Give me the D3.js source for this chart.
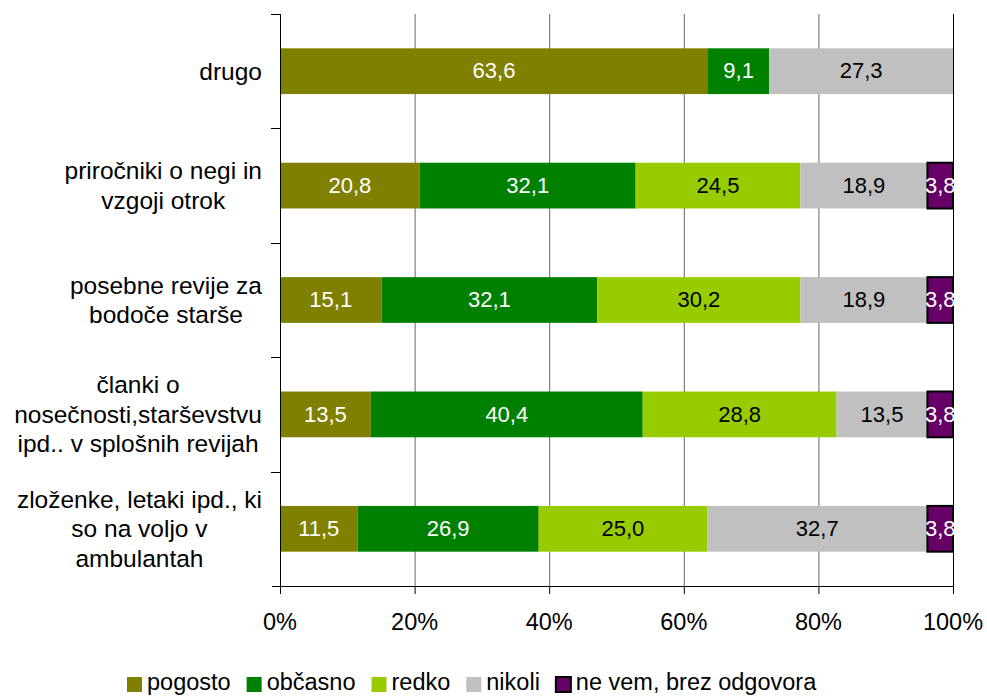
<!DOCTYPE html>
<html><head><meta charset="utf-8">
<script src="https://cdn.jsdelivr.net/npm/d3@7"></script>
<style>body{margin:0;background:#fff}svg{display:block}text{font-family:"Liberation Sans",Arial,sans-serif}</style>
</head><body><svg id="c" width="987" height="696"></svg>
<script>
const categories = [
  ["drugo"],
  ["priročniki o negi in","vzgoji otrok"],
  ["posebne revije za","bodoče starše"],
  ["članki o","nosečnosti,starševstvu","ipd.. v splošnih revijah"],
  ["zloženke, letaki ipd., ki","so na voljo v","ambulantah"]
];
const seriesNames = ["pogosto","občasno","redko","nikoli","ne vem, brez odgovora"];
const pogosto = [63.6, 20.8, 15.1, 13.5, 11.5];
const obcasno = [9.1, 32.1, 32.1, 40.4, 26.9];
const redko   = [0, 24.5, 30.2, 28.8, 25.0];
const nikoli  = [27.3, 18.9, 18.9, 13.5, 32.7];
const neVem   = [0, 3.8, 3.8, 3.8, 3.8];
const xTicks = [0, 20, 40, 60, 80, 100];

const colors = ["#808000","#008000","#99CC00","#C0C0C0","#660066"];
const textColors = ["#fff","#fff","#000","#000","#fff"];
const series = [pogosto, obcasno, redko, nikoli, neVem];

const svg = d3.select("#c");
const L = 280, R = 953, T = 14, B = 586;
const x = d3.scaleLinear().domain([0,100]).range([L,R]);
const y = d3.scaleBand().domain(d3.range(categories.length)).range([T,B]).paddingInner(0.6).paddingOuter(0.3);
const yb = d3.scaleBand().domain(d3.range(categories.length)).range([T,B]);

// gridlines
svg.append("g").selectAll("line").data(xTicks.slice(1)).join("line")
  .attr("x1", d=>x(d)+0.5).attr("x2", d=>x(d)+0.5).attr("y1", T).attr("y2", B)
  .attr("stroke", d=> d===100 ? "#000" : "#666").attr("stroke-width",1);

// bars
const rows = categories.map((c,i)=>{
  const vals = series.map(s=>s[i]);
  const tot = d3.sum(vals);
  let acc = 0;
  return vals.map((v,k)=>{ const s0=acc/tot*100; acc+=v; return {i,k,v,x0:s0,x1:acc/tot*100}; });
});
const g = svg.append("g");
rows.forEach(r=>{
  r.forEach(d=>{
    if(d.v<=0) return;
    g.append("rect").attr("x", x(d.x0)).attr("width", x(d.x1)-x(d.x0))
      .attr("y", y(d.i)).attr("height", y.bandwidth())
      .attr("fill", colors[d.k])
      .attr("stroke", d.k===4 ? "#000" : "none").attr("stroke-width", d.k===4?2:0);
  });
  r.forEach(d=>{
    if(d.v<=0) return;
    g.append("text").attr("x", (x(d.x0)+x(d.x1))/2).attr("y", y(d.i)+y.bandwidth()/2)
      .attr("dy","0.33em").attr("text-anchor","middle").attr("font-size",22)
      .attr("fill", textColors[d.k]).text(d3.format(".1f")(d.v).replace(".",","));
  });
});

// axes lines
svg.append("line").attr("x1",L+0.5).attr("x2",L+0.5).attr("y1",T).attr("y2",B).attr("stroke","#000");
svg.append("line").attr("x1",L-8).attr("x2",R).attr("y1",B+0.5).attr("y2",B+0.5).attr("stroke","#000");
// y ticks at band boundaries
svg.append("g").selectAll("line").data(d3.range(categories.length)).join("line")
  .attr("x1",L-9).attr("x2",L).attr("y1",d=>Math.round(yb(d))+0.5).attr("y2",d=>Math.round(yb(d))+0.5).attr("stroke","#000");
// x ticks
svg.append("g").selectAll("line").data(xTicks).join("line")
  .attr("x1",d=>x(d)+0.5).attr("x2",d=>x(d)+0.5).attr("y1",B).attr("y2",B+8).attr("stroke","#000");
svg.append("g").selectAll("text").data(xTicks).join("text")
  .attr("x",d=>x(d)).attr("y",B+44).attr("text-anchor","middle").attr("font-size",23.5)
  .text(d=>d+"%");

// category labels: block right-aligned, lines centered in block
const lh = 29.5;
categories.forEach((lines,i)=>{
  const grp = svg.append("g");
  const ts = lines.map(l=>grp.append("text").attr("font-size",24.5).attr("text-anchor","middle").text(l));
  const maxW = d3.max(ts, t=>t.node().getComputedTextLength());
  const cx = Math.max(262 - maxW/2, 136);
  const cy = yb(i)+yb.bandwidth()/2;
  ts.forEach((t,j)=>t.attr("x",cx).attr("y", cy + (j-(lines.length-1)/2)*lh).attr("dy","0.35em"));
});

// legend
const lg = svg.append("g");
let lx = 127;
const ly = 684.5;
seriesNames.forEach((n,k)=>{
  lg.append("rect").attr("x",lx).attr("y",ly-7.5).attr("width",15).attr("height",15)
    .attr("fill",colors[k]).attr("stroke",k===4?"#000":"none").attr("stroke-width",k===4?2:0);
  const t = lg.append("text").attr("x",lx+20).attr("y",690).attr("font-size",23.5).text(n);
  lx += 20 + t.node().getComputedTextLength() + 16;
});
</script></body></html>
